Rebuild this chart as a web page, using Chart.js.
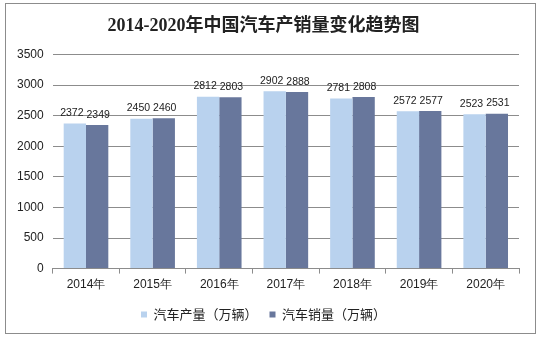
<!DOCTYPE html>
<html lang="zh">
<head>
    <meta charset="UTF-8">
    <title>2014-2020年中国汽车产销量变化趋势图</title>
    <style>
        body { margin: 0; background: #fff; }
        .box {
            position: absolute;
            left: 5px; top: 3px;
            width: 529px; height: 329px;
            border: 1px solid #8c8c8c;
        }
    </style>
    <script src="https://cdn.jsdelivr.net/npm/chart.js"></script>
</head>
<body>
    <div class="box"><canvas id="chart" width="529" height="329"></canvas></div>
    <script>
        const years = ['2014年', '2015年', '2016年', '2017年', '2018年', '2019年', '2020年'];
        const production = [2372, 2450, 2812, 2902, 2781, 2572, 2523];
        const sales = [2349, 2460, 2803, 2888, 2808, 2577, 2531];
        const seriesNames = ['汽车产量（万辆）', '汽车销量（万辆）'];

        // draw value labels on top of each bar
        const valueLabels = {
            id: 'valueLabels',
            afterDatasetsDraw(chart) {
                const ctx = chart.ctx;
                ctx.save();
                ctx.font = '10.5px "Liberation Sans", Arial, sans-serif';
                ctx.fillStyle = '#222';
                ctx.textAlign = 'center';
                ctx.textBaseline = 'bottom';
                chart.data.datasets.forEach((ds, i) => {
                    const shift = i === 0 ? -3 : 1;
                    chart.getDatasetMeta(i).data.forEach((bar, j) => {
                        ctx.fillText(ds.data[j], bar.x + shift, bar.y - 5);
                    });
                });
                ctx.restore();
            }
        };

        new Chart(document.getElementById('chart'), {
            type: 'bar',
            data: {
                labels: years,
                datasets: [
                    { label: seriesNames[0], data: production, backgroundColor: '#b9d2ee' },
                    { label: seriesNames[1], data: sales, backgroundColor: '#68779c' }
                ]
            },
            options: {
                responsive: false,
                animation: false,
                datasets: { bar: { categoryPercentage: 0.67, barPercentage: 1 } },
                layout: { padding: { left: 2, right: 16, top: 4, bottom: 2 } },
                plugins: {
                    title: {
                        display: true,
                        text: '2014-2020年中国汽车产销量变化趋势图',
                        color: '#222',
                        font: { family: '"Liberation Serif", "Noto Sans CJK SC", serif', size: 18, weight: 'bold' },
                        padding: { top: 8, bottom: 17 }
                    },
                    legend: {
                        position: 'bottom',
                        labels: {
                            boxWidth: 6, boxHeight: 6,
                            color: '#222',
                            padding: 12,
                            font: { family: '"Noto Sans CJK SC", sans-serif', size: 13 }
                        }
                    },
                    tooltip: { enabled: false }
                },
                scales: {
                    x: {
                        grid: { display: true, drawOnChartArea: false, offset: true, color: '#8c8c8c', tickLength: 5 },
                        border: { display: true, color: '#8c8c8c' },
                        ticks: { color: '#222', font: { family: '"Liberation Sans", Arial, sans-serif', size: 12 }, padding: 4 }
                    },
                    y: {
                        min: 0, max: 3500,
                        ticks: {
                            stepSize: 500, color: '#222', padding: 9,
                            font: { family: '"Liberation Sans", Arial, sans-serif', size: 12 },
                            callback: v => String(v)
                        },
                        grid: { color: '#8c8c8c', drawTicks: false },
                        border: { display: false }
                    }
                }
            },
            plugins: [valueLabels]
        });
    </script>
</body>
</html>
